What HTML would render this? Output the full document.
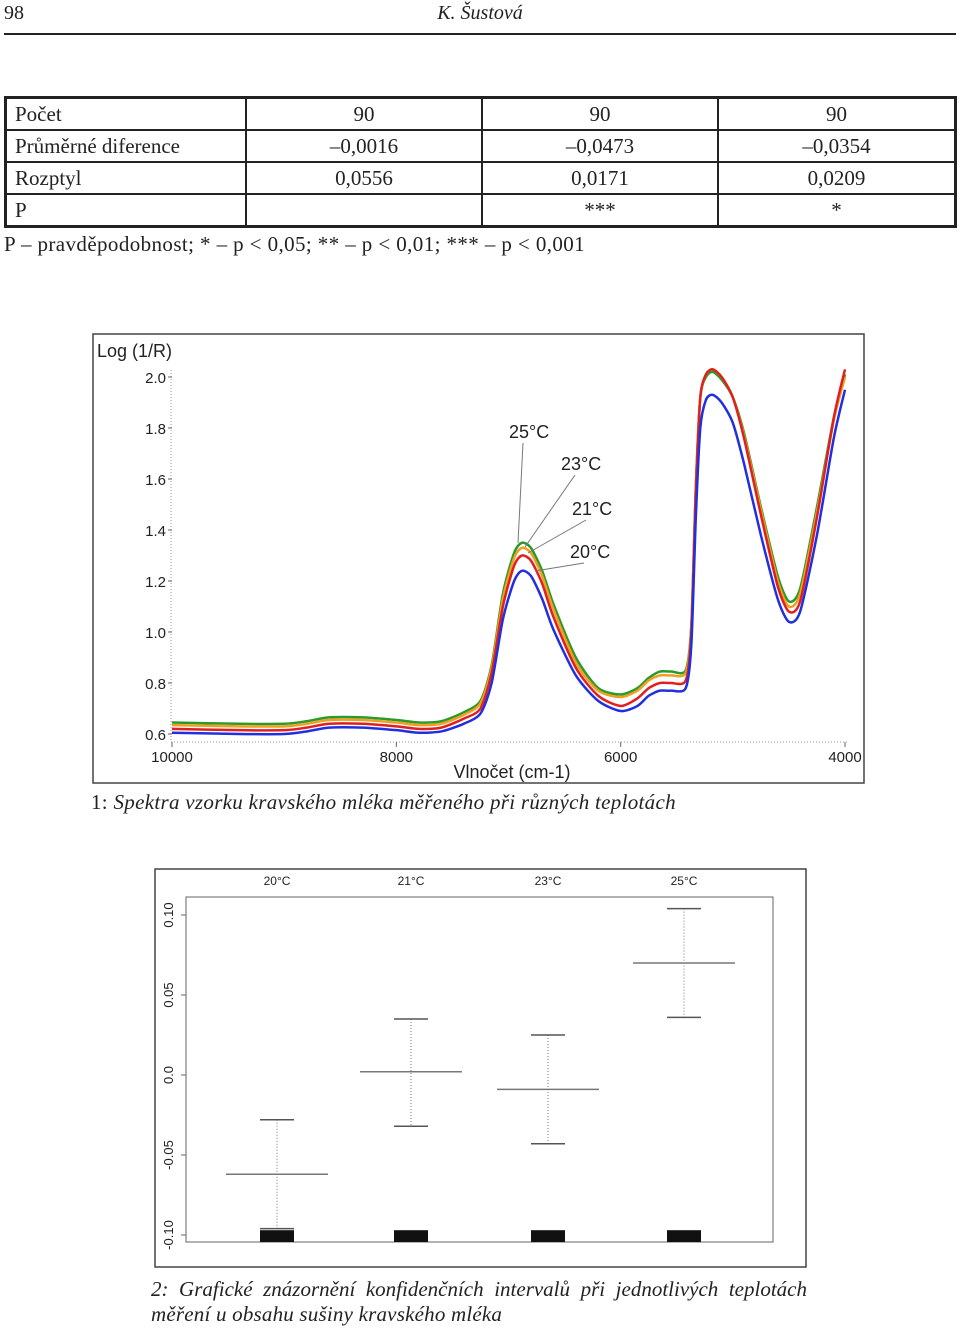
<!DOCTYPE html>
<html><head><meta charset="utf-8"><style>
body{margin:0;width:960px;height:1329px;background:#fff;position:relative;font-family:"Liberation Serif",serif;color:#222;overflow:hidden}
.a{position:absolute;white-space:nowrap}
table{position:absolute;left:4px;top:96px;width:953px;border-collapse:collapse;border:3px solid #222;font-size:21px}
td{border:2px solid #222;height:30px;padding:0 8px;line-height:30px}
td.n{text-align:center}
</style></head><body>
<div class="a" style="left:4px;top:2px;font-size:20px">98</div>
<div class="a" style="left:0;width:960px;text-align:center;top:2px;font-size:20px;font-style:italic">K. Šustová</div>
<div class="a" style="left:4px;top:33px;width:952px;height:2px;background:#222"></div>
<table>
<tr><td style="width:222px">Počet</td><td class="n">90</td><td class="n">90</td><td class="n">90</td></tr>
<tr><td>Průměrné diference</td><td class="n">–0,0016</td><td class="n">–0,0473</td><td class="n">–0,0354</td></tr>
<tr><td>Rozptyl</td><td class="n">0,0556</td><td class="n">0,0171</td><td class="n">0,0209</td></tr>
<tr><td>P</td><td class="n"></td><td class="n">***</td><td class="n">*</td></tr>
</table>
<div class="a" style="left:4px;top:232px;font-size:21px;letter-spacing:0.4px">P – pravděpodobnost; * – p &lt; 0,05; ** – p &lt; 0,01; *** – p &lt; 0,001</div>
<div class="a" style="left:91px;top:790px;font-size:21px;letter-spacing:0.3px">1: <i>Spektra vzorku kravského mléka měřeného při různých teplotách</i></div>
<div class="a" style="left:151px;top:1276px;font-size:21px;font-style:italic;line-height:26px;width:656px;white-space:normal;text-align:justify;text-align-last:justify">2: Grafické znázornění konfidenčních intervalů při jednotlivých teplotách</div>
<div class="a" style="left:151px;top:1302px;font-size:21px;font-style:italic;letter-spacing:0.2px">měření u obsahu sušiny kravského mléka</div>
<svg id="s" width="960" height="1329" style="position:absolute;left:0;top:0" font-family="Liberation Sans, sans-serif">
<rect x="93" y="334" width="771" height="449" fill="none" stroke="#444" stroke-width="1.5"/>
<rect x="155" y="869" width="651" height="398" fill="none" stroke="#444" stroke-width="1.5"/>
<rect x="186" y="897" width="587" height="345" fill="none" stroke="#666" stroke-width="1"/>
<g id="g1"></g><g id="g2"></g>
</svg>
<script>
const wn=[10000,9400,9000,8800,8600,8300,8000,7800,7600,7400,7250,7150,7050,6950,6880,6800,6700,6600,6400,6200,6000,5850,5750,5650,5550,5420,5370,5330,5290,5240,5180,5100,5000,4900,4750,4600,4500,4400,4250,4100,4000];
const s20=[0.605,0.60,0.60,0.61,0.625,0.625,0.615,0.605,0.61,0.64,0.68,0.80,1.05,1.20,1.24,1.22,1.13,1.01,0.83,0.73,0.69,0.71,0.75,0.77,0.77,0.78,0.95,1.45,1.80,1.91,1.93,1.90,1.82,1.66,1.38,1.13,1.04,1.08,1.38,1.76,1.95];
const s21=[0.62,0.615,0.615,0.625,0.64,0.64,0.63,0.62,0.625,0.66,0.70,0.84,1.10,1.26,1.30,1.28,1.19,1.06,0.86,0.75,0.71,0.74,0.78,0.80,0.80,0.81,1.00,1.55,1.92,2.01,2.03,2.00,1.92,1.76,1.46,1.18,1.08,1.12,1.45,1.84,2.03];
const s23=[0.635,0.63,0.63,0.64,0.655,0.655,0.645,0.635,0.64,0.675,0.72,0.86,1.13,1.29,1.33,1.31,1.22,1.09,0.88,0.77,0.745,0.77,0.81,0.83,0.83,0.84,1.02,1.57,1.92,2.01,2.03,2.00,1.92,1.77,1.48,1.20,1.10,1.15,1.47,1.83,2.00];
const s25=[0.645,0.64,0.64,0.65,0.665,0.665,0.655,0.645,0.65,0.685,0.73,0.87,1.15,1.31,1.35,1.33,1.24,1.11,0.90,0.78,0.755,0.78,0.82,0.845,0.845,0.85,1.03,1.57,1.92,2.00,2.02,1.99,1.92,1.78,1.49,1.22,1.12,1.17,1.49,1.84,2.01];
const yTicks1=[0.6,0.8,1.0,1.2,1.4,1.6,1.8,2.0];
const xTicks1=[10000,8000,6000,4000];
const cats=["20°C","21°C","23°C","25°C"];
const upper=[-0.028,0.035,0.025,0.104];
const mean=[-0.062,0.002,-0.009,0.070];
const lower=[-0.096,-0.032,-0.043,0.036];
const yTicks2=[-0.10,-0.05,0.0,0.05,0.10];
const yTickLabels2=["-0.10","-0.05","0.0","0.05","0.10"];
const NS="http://www.w3.org/2000/svg";
function mk(p,t,a){const e=document.createElementNS(NS,t);for(const k in a)e.setAttribute(k,a[k]);p.appendChild(e);return e;}
const X1=w=>172+(10000-w)*(845-172)/6000;
const Y1=v=>377+(2.0-v)*(734-377)/1.4;
const g1=document.getElementById('g1');
let ax=mk(g1,'line',{x1:171,y1:370,x2:171,y2:742,stroke:'#999','stroke-dasharray':'1,2'});

ax=mk(g1,'line',{x1:171,y1:742,x2:848,y2:742,stroke:'#999','stroke-dasharray':'1,2'});

yTicks1.forEach(v=>{const t=mk(g1,'text',{x:166,y:Y1(v)+6,'text-anchor':'end','font-size':15,fill:'#222'});t.textContent=v.toFixed(1);

mk(g1,'line',{x1:168,x2:172,y1:Y1(v),y2:Y1(v),stroke:'#666'});});
xTicks1.forEach(v=>{const t=mk(g1,'text',{x:X1(v),y:762,'text-anchor':'middle','font-size':15,fill:'#222'});t.textContent=v;

mk(g1,'line',{x1:X1(v),x2:X1(v),y1:742,y2:747,stroke:'#666'});});
let t=mk(g1,'text',{x:97,y:357,'font-size':18,fill:'#222'});t.textContent='Log (1/R)';

t=mk(g1,'text',{x:512,y:778,'text-anchor':'middle','font-size':18,fill:'#222'});t.textContent='Vlnočet (cm-1)';

function path(vals){const p=wn.map((w,i)=>[X1(w),Y1(vals[i])]);let d='M'+p[0][0]+','+p[0][1];
for(let i=0;i<p.length-1;i++){const p0=p[i-1]||p[i],p1=p[i],p2=p[i+1],p3=p[i+2]||p2;const k=8;
d+=' C'+(p1[0]+(p2[0]-p0[0])/k)+','+(p1[1]+(p2[1]-p0[1])/k)+' '+(p2[0]-(p3[0]-p1[0])/k)+','+(p2[1]-(p3[1]-p1[1])/k)+' '+p2[0]+','+p2[1];}return d;}
[[s25,'#2a9a2a','series-25c'],[s23,'#f0a020','series-23c'],[s21,'#e02020','series-21c'],[s20,'#2030e0','series-20c']].forEach(([v,c,n])=>{
const e=mk(g1,'path',{d:path(v),fill:'none',stroke:c,'stroke-width':2.5,'stroke-linejoin':'round'});
});
const lab=[["25°C",509,438,518,543],["23°C",561,470,525,547],["21°C",572,515,528,553],["20°C",570,558,535,571]];
lab.forEach(([s,x,y,tx,ty])=>{mk(g1,'line',{x1:x+14,y1:y+5,x2:tx,y2:ty,stroke:'#777'});
const e=mk(g1,'text',{x:x,y:y,'font-size':18,fill:'#222'});e.textContent=s;
});
const g2=document.getElementById('g2');
const cx=[277,411,548,684];
const Y2=v=>915+(0.10-v)*(1235-915)/0.2;
yTicks2.forEach((v,i)=>{mk(g2,'line',{x1:181,x2:186,y1:Y2(v),y2:Y2(v),stroke:'#666'});
const e=mk(g2,'text',{x:0,y:0,'font-size':13,fill:'#222','text-anchor':'middle',transform:`translate(173,${Y2(v)}) rotate(-90)`});e.textContent=yTickLabels2[i];
});
cats.forEach((c,i)=>{const x=cx[i];
const e=mk(g2,'text',{x:x,y:885,'text-anchor':'middle','font-size':12,fill:'#222'});e.textContent=c;

const w=mk(g2,'line',{x1:x,x2:x,y1:Y2(upper[i]),y2:Y2(lower[i]),stroke:'#777','stroke-dasharray':'1,2'});

[upper[i],lower[i]].forEach(v=>{const l=mk(g2,'line',{x1:x-17,x2:x+17,y1:Y2(v),y2:Y2(v),stroke:'#555','stroke-width':1.5});
});
const m=mk(g2,'line',{x1:x-51,x2:x+51,y1:Y2(mean[i]),y2:Y2(mean[i]),stroke:'#777','stroke-width':1.5});

const r=mk(g2,'rect',{x:x-17,y:Y2(-0.097),width:34,height:1242-Y2(-0.097),fill:'#111'});
});
</script>
</body></html>
